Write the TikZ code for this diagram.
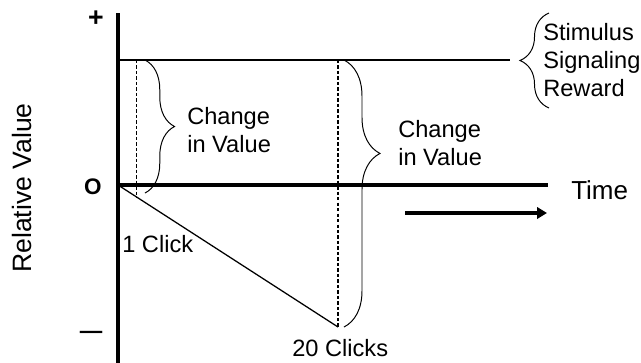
\documentclass[tikz,border=0pt]{standalone}
\usepackage{fontspec}
\setmainfont{Liberation Sans}
\usetikzlibrary{arrows.meta, decorations.pathreplacing, calc}
\tikzset{
  txt/.style={font=\fontsize{16.8}{20}\selectfont, inner sep=0pt, align=left},
  sgn/.style={font=\fontsize{16}{19}\selectfont\bfseries, inner sep=0pt},
  axis/.style={line width=2.6pt},
  lvl/.style={line width=0.9pt},
  drop/.style={line width=0.8pt, dash pattern=on 2.4pt off 1.5pt},
  brc/.style={decorate, line width=0.7pt,
              decoration={brace, amplitude=#1}},
  brcat/.style 2 args={decorate, line width=0.7pt,
              decoration={brace, amplitude=#1, aspect=#2}},
  timearr/.style={-{Triangle[length=7pt, width=8pt]}, line width=2.6pt},
}

\begin{document}
\begin{tikzpicture}[x=0.025cm, y=-0.025cm]
  \useasboundingbox (0,0) rectangle (641,363);

  % axes
  \coordinate (O) at (118,185);
  \coordinate (ytop) at (118,13);
  \coordinate (ybot) at (118,363);
  \coordinate (xend) at (548,185);
  \draw[axis] (ytop) -- (ybot);
  \draw[axis] (O) -- (xend);

  \node[sgn, font=\fontsize{19}{22}\selectfont\bfseries] (plus) at (96,19) {+};
  \node[sgn] (zero) at (93,187) {O};
  \node[sgn] (minus) at (91,335) {—};
  \node[txt, font=\fontsize{18.9}{22}\selectfont, rotate=90] (rv) at (22,188) {Relative Value};
  \node[txt, font=\fontsize{18.5}{22}\selectfont, anchor=west] (time) at (571,190) {Time};

  % time arrow
  \coordinate (ta) at (405,213);
  \coordinate (tb) at (547,213);
  \draw[timearr] (ta) -- (tb);

  % reward level
  \coordinate (rw0) at (118,60);
  \coordinate (rw1) at (510,60);
  \draw[lvl] (rw0) -- (rw1);

  % value drop after clicks
  \coordinate (c20) at (338,327);
  \coordinate (c1) at ($(O)!0.086!(c20)$);
  \draw[lvl] (O) -- (c20);
  \draw[drop] (c1 |- rw0) -- (c1);
  \draw[drop] (c20 |- rw0) -- (c20);

  \node[txt, anchor=west] (click1) at (122,244) {1 Click};
  \node[txt, anchor=west] (click20) at (292,348) {20 Clicks};

  % braces
  \draw[brc=21pt] (145,60) -- (145,193);
  \draw[brcat={25.6pt}{0.35}] (344,60) -- (344,327);
  \draw[brc=20.6pt] (549,108) -- (549,13);

  \node[txt, anchor=west] (chg1) at (187,130) {Change\\in Value};
  \node[txt, anchor=west] (chg20) at (398,143) {Change\\in Value};
  \node[txt, anchor=west] (stim) at (543,60) {Stimulus\\Signaling\\Reward};
\end{tikzpicture}
\end{document}
